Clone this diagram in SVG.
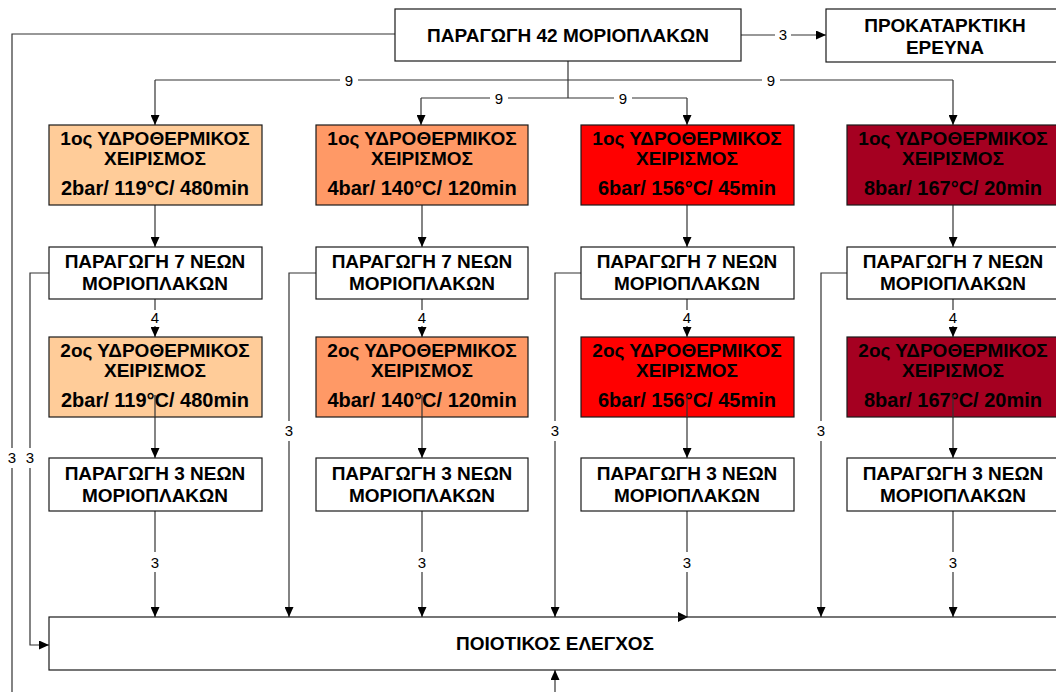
<svg xmlns="http://www.w3.org/2000/svg" width="1056" height="692" viewBox="0 0 1056 692">
  <style>
    .box { stroke: #1a1a1a; stroke-width: 1.2; }
    .plain { fill: #ffffff; }
    .c1 { fill: #FFCC99; }
    .c2 { fill: #FF9966; }
    .c3 { fill: #FF0000; }
    .c4 { fill: #A50021; }
    .t { font-family: "Liberation Sans", Arial, sans-serif; font-weight: bold; font-size: 19px; fill: #000; text-anchor: middle; }
    .t2 { font-family: "Liberation Sans", Arial, sans-serif; font-weight: bold; font-size: 20px; fill: #000; text-anchor: middle; }
    .ln { stroke: #333; stroke-width: 1.2; fill: none; }
    .lbl { font-family: "Liberation Sans", Arial, sans-serif; font-size: 15px; fill: #000; text-anchor: middle; }
    .knock { fill: #ffffff; }
  </style>
  <defs>
    <marker id="arr" viewBox="0 0 10 10" refX="10" refY="5" markerWidth="10" markerHeight="9" markerUnits="userSpaceOnUse" orient="auto" preserveAspectRatio="none">
      <path d="M0,0 L10,5 L0,10 Z" fill="#000"/>
    </marker>
  </defs>
  <rect width="1056" height="692" fill="#ffffff"/>

  <!-- connectors -->
  <g id="connectors">
    <!-- from main box: left outer line down to bottom -->
    <path class="ln" d="M395,34 H12 V692"/>
    <!-- to preliminary research -->
    <path class="ln" d="M741,35 H826" marker-end="url(#arr)"/>
    <!-- distribution to the four columns -->
    <path class="ln" d="M568,61 V98"/>
    <path class="ln" d="M155,80 H953"/>
    <path class="ln" d="M155,80 V125" marker-end="url(#arr)"/>
    <path class="ln" d="M953,80 V125" marker-end="url(#arr)"/>
    <path class="ln" d="M421,98 H687"/>
    <path class="ln" d="M421,98 V125" marker-end="url(#arr)"/>
    <path class="ln" d="M687,98 V125" marker-end="url(#arr)"/>

    <!-- column flows -->
    <g id="col-flows">
      <path class="ln" d="M155,205 V247" marker-end="url(#arr)"/>
      <path class="ln" d="M155,299 V337" marker-end="url(#arr)"/>
      <path class="ln" d="M155,395 V458" marker-end="url(#arr)"/>
      <path class="ln" d="M155,511 V617" marker-end="url(#arr)"/>

      <path class="ln" d="M422,205 V247" marker-end="url(#arr)"/>
      <path class="ln" d="M422,299 V337" marker-end="url(#arr)"/>
      <path class="ln" d="M422,395 V458" marker-end="url(#arr)"/>
      <path class="ln" d="M422,511 V617" marker-end="url(#arr)"/>

      <path class="ln" d="M687,205 V247" marker-end="url(#arr)"/>
      <path class="ln" d="M687,299 V337" marker-end="url(#arr)"/>
      <path class="ln" d="M687,395 V458" marker-end="url(#arr)"/>
      <path class="ln" d="M687,511 V617"/>
      <path d="M678,612 L688,617 L678,622 Z" fill="#000"/>

      <path class="ln" d="M953,205 V247" marker-end="url(#arr)"/>
      <path class="ln" d="M953,299 V337" marker-end="url(#arr)"/>
      <path class="ln" d="M953,395 V458" marker-end="url(#arr)"/>
      <path class="ln" d="M953,511 V617" marker-end="url(#arr)"/>
    </g>

    <!-- side branches from the 7-new-board boxes -->
    <path class="ln" d="M49,273 H30 V645 H49" marker-end="url(#arr)"/>
    <path class="ln" d="M316,273 H289 V617" marker-end="url(#arr)"/>
    <path class="ln" d="M581,273 H555 V617" marker-end="url(#arr)"/>
    <path class="ln" d="M847,273 H821 V617" marker-end="url(#arr)"/>

    <!-- incoming from below -->
    <path class="ln" d="M555,692 V670" marker-end="url(#arr)"/>

    <!-- quantity labels -->
    <g id="labels">
      <rect class="knock" x="775" y="27" width="16" height="16"/><text class="lbl" x="783" y="40">3</text>
      <rect class="knock" x="340" y="72" width="18" height="16"/><text class="lbl" x="349" y="86">9</text>
      <rect class="knock" x="762" y="72" width="18" height="16"/><text class="lbl" x="771" y="86">9</text>
      <rect class="knock" x="490" y="90" width="18" height="16"/><text class="lbl" x="499" y="104">9</text>
      <rect class="knock" x="614" y="90" width="18" height="16"/><text class="lbl" x="623" y="104">9</text>

      <rect class="knock" x="147" y="310" width="16" height="16"/><text class="lbl" x="155" y="323">4</text>
      <rect class="knock" x="414" y="310" width="16" height="16"/><text class="lbl" x="422" y="323">4</text>
      <rect class="knock" x="679" y="310" width="16" height="16"/><text class="lbl" x="687" y="323">4</text>
      <rect class="knock" x="945" y="310" width="16" height="16"/><text class="lbl" x="953" y="323">4</text>

      <rect class="knock" x="147" y="552" width="16" height="20"/><text class="lbl" x="155" y="568">3</text>
      <rect class="knock" x="414" y="552" width="16" height="20"/><text class="lbl" x="422" y="568">3</text>
      <rect class="knock" x="679" y="552" width="16" height="20"/><text class="lbl" x="687" y="568">3</text>
      <rect class="knock" x="945" y="552" width="16" height="20"/><text class="lbl" x="953" y="568">3</text>

      <rect class="knock" x="5" y="448" width="14" height="20"/><text class="lbl" x="12" y="463">3</text>
      <rect class="knock" x="23" y="448" width="14" height="20"/><text class="lbl" x="30" y="463">3</text>
      <rect class="knock" x="282" y="421" width="14" height="20"/><text class="lbl" x="289" y="436">3</text>
      <rect class="knock" x="548" y="421" width="14" height="20"/><text class="lbl" x="555" y="436">3</text>
      <rect class="knock" x="814" y="421" width="14" height="20"/><text class="lbl" x="821" y="436">3</text>
    </g>
  </g>

  <!-- top -->
  <g id="main">
    <rect class="box plain" x="395" y="9" width="346" height="52"/>
    <text class="t" x="568" y="42">ΠΑΡΑΓΩΓΗ 42 ΜΟΡΙΟΠΛΑΚΩΝ</text>
  </g>
  <g id="research">
    <rect class="box plain" x="826" y="9" width="250" height="53"/>
    <text class="t" x="945" y="32">ΠΡΟΚΑΤΑΡΚΤΙΚΗ</text>
    <text class="t" x="945" y="54">ΕΡΕΥΝΑ</text>
  </g>

  <!-- column 1 -->
  <g id="treat1-c1">
    <rect class="box c1" x="49" y="125" width="213" height="80"/>
    <text class="t" x="155" y="145">1ος ΥΔΡΟΘΕΡΜΙΚΟΣ</text>
    <text class="t" x="155" y="165">ΧΕΙΡΙΣΜΟΣ</text>
    <text class="t2" x="155" y="195">2bar/ 119°C/ 480min</text>
  </g>
  <g id="new7-c1">
    <rect class="box plain" x="49" y="247" width="213" height="52"/>
    <text class="t" x="155" y="268">ΠΑΡΑΓΩΓΗ 7 ΝΕΩΝ</text>
    <text class="t" x="155" y="290">ΜΟΡΙΟΠΛΑΚΩΝ</text>
  </g>
  <g id="treat2-c1">
    <rect class="box c1" x="49" y="337" width="213" height="80"/>
    <text class="t" x="155" y="357">2ος ΥΔΡΟΘΕΡΜΙΚΟΣ</text>
    <text class="t" x="155" y="377">ΧΕΙΡΙΣΜΟΣ</text>
    <text class="t2" x="155" y="407">2bar/ 119°C/ 480min</text>
  </g>
  <g id="new3-c1">
    <rect class="box plain" x="49" y="458" width="213" height="53"/>
    <text class="t" x="155" y="480">ΠΑΡΑΓΩΓΗ 3 ΝΕΩΝ</text>
    <text class="t" x="155" y="502">ΜΟΡΙΟΠΛΑΚΩΝ</text>
  </g>

  <!-- column 2 -->
  <g id="treat1-c2">
    <rect class="box c2" x="316" y="125" width="212" height="80"/>
    <text class="t" x="422" y="145">1ος ΥΔΡΟΘΕΡΜΙΚΟΣ</text>
    <text class="t" x="422" y="165">ΧΕΙΡΙΣΜΟΣ</text>
    <text class="t2" x="422" y="195">4bar/ 140°C/ 120min</text>
  </g>
  <g id="new7-c2">
    <rect class="box plain" x="316" y="247" width="212" height="52"/>
    <text class="t" x="422" y="268">ΠΑΡΑΓΩΓΗ 7 ΝΕΩΝ</text>
    <text class="t" x="422" y="290">ΜΟΡΙΟΠΛΑΚΩΝ</text>
  </g>
  <g id="treat2-c2">
    <rect class="box c2" x="316" y="337" width="212" height="80"/>
    <text class="t" x="422" y="357">2ος ΥΔΡΟΘΕΡΜΙΚΟΣ</text>
    <text class="t" x="422" y="377">ΧΕΙΡΙΣΜΟΣ</text>
    <text class="t2" x="422" y="407">4bar/ 140°C/ 120min</text>
  </g>
  <g id="new3-c2">
    <rect class="box plain" x="316" y="458" width="212" height="53"/>
    <text class="t" x="422" y="480">ΠΑΡΑΓΩΓΗ 3 ΝΕΩΝ</text>
    <text class="t" x="422" y="502">ΜΟΡΙΟΠΛΑΚΩΝ</text>
  </g>

  <!-- column 3 -->
  <g id="treat1-c3">
    <rect class="box c3" x="581" y="125" width="213" height="80"/>
    <text class="t" x="687" y="145">1ος ΥΔΡΟΘΕΡΜΙΚΟΣ</text>
    <text class="t" x="687" y="165">ΧΕΙΡΙΣΜΟΣ</text>
    <text class="t2" x="687" y="195">6bar/ 156°C/ 45min</text>
  </g>
  <g id="new7-c3">
    <rect class="box plain" x="581" y="247" width="213" height="52"/>
    <text class="t" x="687" y="268">ΠΑΡΑΓΩΓΗ 7 ΝΕΩΝ</text>
    <text class="t" x="687" y="290">ΜΟΡΙΟΠΛΑΚΩΝ</text>
  </g>
  <g id="treat2-c3">
    <rect class="box c3" x="581" y="337" width="213" height="80"/>
    <text class="t" x="687" y="357">2ος ΥΔΡΟΘΕΡΜΙΚΟΣ</text>
    <text class="t" x="687" y="377">ΧΕΙΡΙΣΜΟΣ</text>
    <text class="t2" x="687" y="407">6bar/ 156°C/ 45min</text>
  </g>
  <g id="new3-c3">
    <rect class="box plain" x="581" y="458" width="213" height="53"/>
    <text class="t" x="687" y="480">ΠΑΡΑΓΩΓΗ 3 ΝΕΩΝ</text>
    <text class="t" x="687" y="502">ΜΟΡΙΟΠΛΑΚΩΝ</text>
  </g>

  <!-- column 4 -->
  <g id="treat1-c4">
    <rect class="box c4" x="847" y="125" width="230" height="80"/>
    <text class="t" x="953" y="145">1ος ΥΔΡΟΘΕΡΜΙΚΟΣ</text>
    <text class="t" x="953" y="165">ΧΕΙΡΙΣΜΟΣ</text>
    <text class="t2" x="953" y="195">8bar/ 167°C/ 20min</text>
  </g>
  <g id="new7-c4">
    <rect class="box plain" x="847" y="247" width="230" height="52"/>
    <text class="t" x="953" y="268">ΠΑΡΑΓΩΓΗ 7 ΝΕΩΝ</text>
    <text class="t" x="953" y="290">ΜΟΡΙΟΠΛΑΚΩΝ</text>
  </g>
  <g id="treat2-c4">
    <rect class="box c4" x="847" y="337" width="230" height="80"/>
    <text class="t" x="953" y="357">2ος ΥΔΡΟΘΕΡΜΙΚΟΣ</text>
    <text class="t" x="953" y="377">ΧΕΙΡΙΣΜΟΣ</text>
    <text class="t2" x="953" y="407">8bar/ 167°C/ 20min</text>
  </g>
  <g id="new3-c4">
    <rect class="box plain" x="847" y="458" width="230" height="53"/>
    <text class="t" x="953" y="480">ΠΑΡΑΓΩΓΗ 3 ΝΕΩΝ</text>
    <text class="t" x="953" y="502">ΜΟΡΙΟΠΛΑΚΩΝ</text>
  </g>

  <!-- quality control -->
  <g id="quality">
    <rect class="box" x="49" y="617" width="1030" height="53" fill="none"/>
    <text class="t" x="555" y="650">ΠΟΙΟΤΙΚΟΣ ΕΛΕΓΧΟΣ</text>
  </g>

  <!-- lines drawn over the second-treatment boxes -->
  <g id="overlay-lines">
    <path class="ln" d="M155,395 V417"/>
    <path class="ln" d="M422,395 V417"/>
    <path class="ln" d="M687,395 V417"/>
    <path class="ln" d="M953,395 V417"/>
  </g>
</svg>
